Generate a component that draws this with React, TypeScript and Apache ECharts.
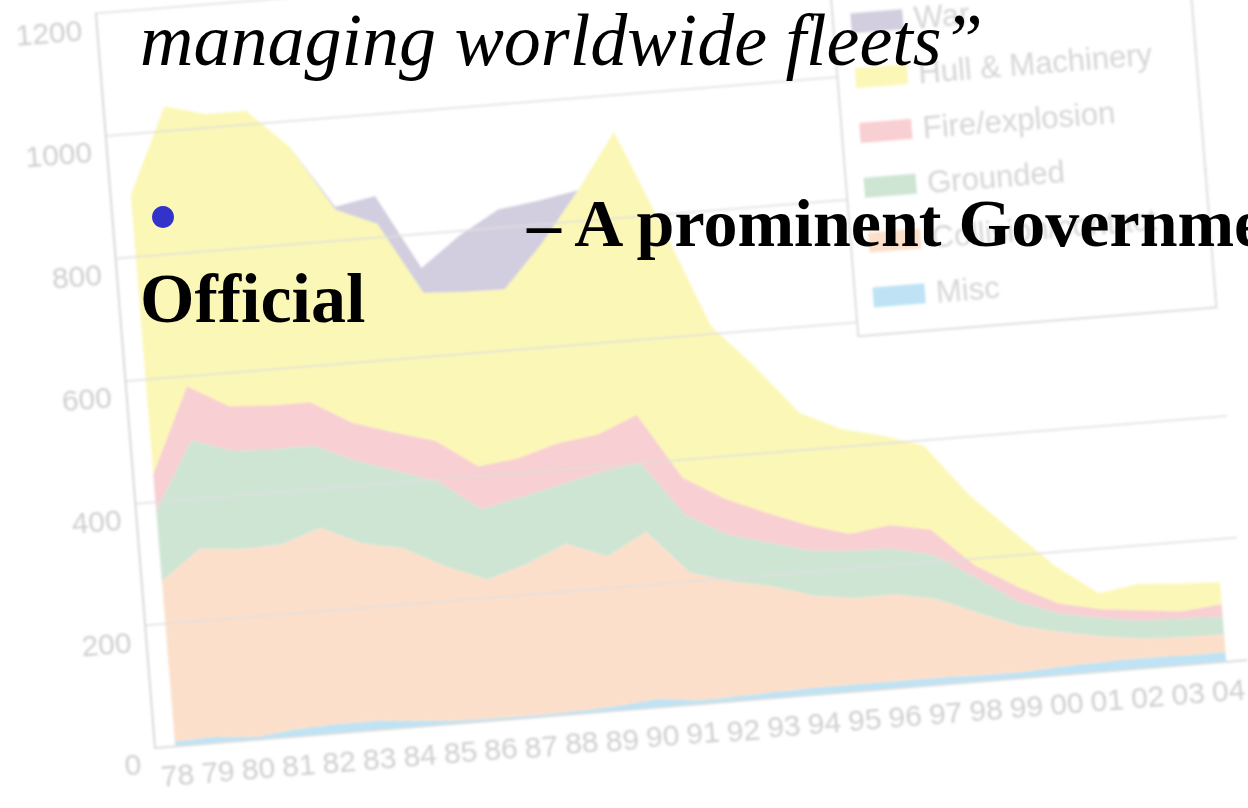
import React, { useEffect, useRef } from "react";
import * as echarts from "echarts";

const years = ["78","79","80","81","82","83","84","85","86","87","88","89","90","91","92","93","94","95","96","97","98","99","00","01","02","03","04"];
const misc = [8,10,5,12,15,15,10,5,4,4,5,8,14,6,8,10,12,12,12,12,10,10,14,16,17,16,16];
const collision = [262,308,307,302,321,290,282,252,226,246,273,244,273,209,187,172,149,140,141,128,102,75,56,42,32,30,29];
const grounded = [115,177,160,156,134,135,126,138,115,110,97,138,112,94,77,71,74,77,75,72,58,40,30,30,29,30,29];
const fire = [60,88,73,71,71,62,63,67,70,63,67,61,79,61,58,49,41,28,38,41,20,25,17,14,17,12,20];
const hull = [455,457,477,481,417,348,341,242,285,276,326,399,462,409,282,238,184,171,146,137,115,90,60,26,43,45,36];
const war = [0,0,0,0,0,5,45,40,92,130,70,0,0,0,0,0,0,0,0,0,0,0,0,0,0,0,0];

const legendOrder = ["War", "Hull & Machinery", "Fire/explosion", "Grounded", "Collision/contact", "Misc"];

const titleLine = "managing worldwide fleets\u201d";
const bulletLine = "\u2013 A prominent Government";
const secondLine = "Official";

const SANS = "'Liberation Sans', 'DejaVu Sans', sans-serif";
const SERIF = "'Liberation Serif', 'DejaVu Serif', serif";

function areaSeries(name: string, data: number[], color: string) {
  return {
    name,
    type: "line",
    stack: "total",
    data,
    showSymbol: false,
    symbol: "none",
    lineStyle: { width: 0 },
    itemStyle: { color },
    areaStyle: { color, opacity: 1 },
    emphasis: { disabled: true },
  };
}

export default function App() {
  const chartRef = useRef<HTMLDivElement>(null);
  const textRef = useRef<HTMLDivElement>(null);

  useEffect(() => {
    const chart = echarts.init(chartRef.current!, undefined, { renderer: "svg" });
    chart.setOption({
      animation: false,
      backgroundColor: "#fff",
      grid: { left: 175, top: 71, width: 1095, height: 737, containLabel: false, outerBoundsMode: "none" },
      legend: {
        orient: "vertical",
        left: 909,
        top: 108,
        data: legendOrder,
        icon: "rect",
        itemWidth: 52,
        itemHeight: 20,
        itemGap: 24,
        padding: [18, 44, 22, 18],
        backgroundColor: "#fff",
        borderColor: "#999",
        borderWidth: 2,
        textStyle: { fontSize: 31, color: "#7a7a7a", fontFamily: SANS, padding: [0, 0, 0, 6] },
        z: 10,
      },
      xAxis: {
        type: "category",
        data: years,
        boundaryGap: true,
        axisLine: { lineStyle: { color: "#888", width: 2 } },
        axisTick: { show: false },
        axisLabel: { fontSize: 30, color: "#666", margin: 14, fontFamily: SANS, interval: 0 },
      },
      yAxis: {
        type: "value",
        min: 0,
        max: 1200,
        interval: 200,
        z: 5,
        axisLine: { show: true, lineStyle: { color: "#888", width: 2 } },
        axisTick: { show: false },
        splitLine: { lineStyle: { color: "#999", width: 1.5 } },
        axisLabel: {
          fontSize: 30,
          color: "#666",
          margin: 15,
          fontFamily: SANS,
          verticalAlign: "top",
          formatter: (v: number) => String(v),
        },
      },
      series: [
        areaSeries("Misc", misc, "#2da5de"),
        areaSeries("Collision/contact", collision, "#f89855"),
        areaSeries("Grounded", grounded, "#5fac73"),
        areaSeries("Fire/explosion", fire, "#eb626c"),
        areaSeries("Hull & Machinery", hull, "#f5e812"),
        areaSeries("War", war, "#705f98"),
      ],
    });

    const txt = echarts.init(textRef.current!, undefined, { renderer: "svg" });
    txt.setOption({
      animation: false,
      graphic: [
        {
          type: "text",
          x: 140,
          y: 40,
          style: { text: titleLine, fontFamily: SERIF, fontStyle: "italic", fontSize: 74, fill: "#000", verticalAlign: "middle" },
        },
        { type: "circle", shape: { cx: 163, cy: 217, r: 11 }, style: { fill: "#3333cc" } },
        {
          type: "text",
          x: 527,
          y: 223,
          style: { text: bulletLine, fontFamily: SERIF, fontWeight: "bold", fontSize: 68, fill: "#000", verticalAlign: "middle" },
        },
        {
          type: "text",
          x: 140,
          y: 298,
          style: { text: secondLine, fontFamily: SERIF, fontWeight: "bold", fontSize: 70, fill: "#000", verticalAlign: "middle" },
        },
      ],
    });

    return () => {
      chart.dispose();
      txt.dispose();
    };
  }, []);

  return (
    <div style={{ position: "fixed", left: 0, top: 0, width: 1248, height: 808, overflow: "hidden", background: "#fff" }}>
      <div
        ref={chartRef}
        style={{
          position: "absolute",
          left: -20,
          top: -60,
          width: 1340,
          height: 880,
          transform: "rotate(-4.6deg)",
          transformOrigin: "175px 808px",
          opacity: 0.3,
          filter: "blur(0.8px)",
        }}
      />
      <div ref={textRef} style={{ position: "absolute", left: 0, top: 0, width: 1248, height: 808 }} />
    </div>
  );
}
